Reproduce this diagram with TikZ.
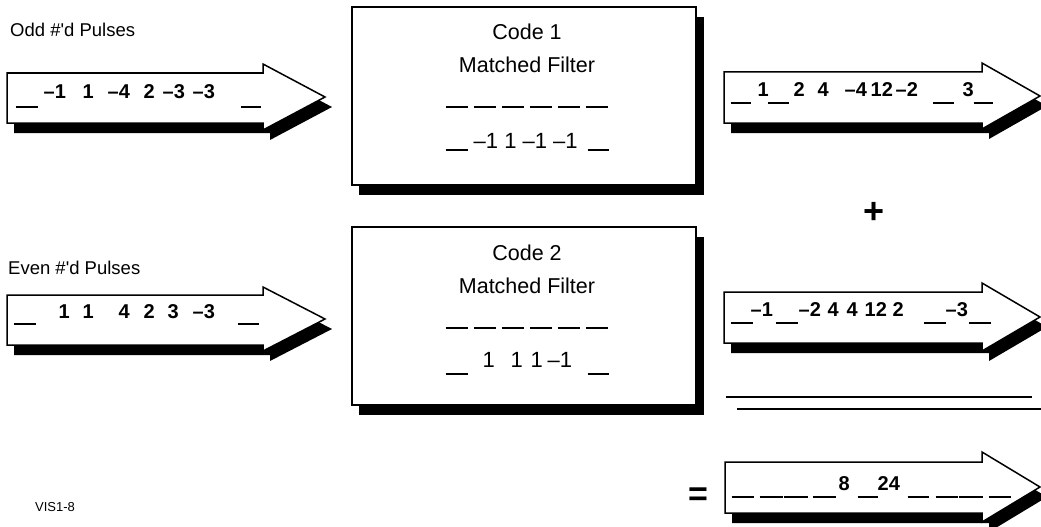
\documentclass[tikz,border=0pt]{standalone}
\usepackage{fontspec}
\setmainfont{Liberation Sans}
\usetikzlibrary{shadows}
% tokens placed at a horizontal offset (pt) from the start of a row
\newcommand{\mn}{\textendash}
\newcommand{\tk}[2]{\makebox[0pt][l]{\hspace*{#1pt}#2}}
% blank slot: offset, width, drop below the baseline
\newcommand{\dk}[3]{\makebox[0pt][l]{\hspace*{#1pt}\rule[-#3pt]{#2pt}{1.8pt}}}
\tikzset{
  outline/.style={draw=black, line width=1.5pt, fill=white, line join=miter,
    drop shadow={shadow xshift=7pt, shadow yshift=-10pt, opacity=1, fill=black}},
  filterbox/.style={outline, rectangle, inner sep=0pt,
    drop shadow={shadow xshift=8pt, shadow yshift=-10pt, opacity=1, fill=black}},
  seq/.style={anchor=base west, inner sep=0pt, font=\fontsize{20}{22}\selectfont\bfseries},
  code/.style={anchor=base west, inner sep=0pt, font=\fontsize{22}{24}\selectfont},
  title/.style={anchor=base, inner sep=0pt, font=\fontsize{21.5}{24}\selectfont},
  label/.style={anchor=base west, inner sep=0pt, font=\fontsize{18.5}{20}\selectfont},
}
\begin{document}
\begin{tikzpicture}[x=1pt, y=-1pt]
\useasboundingbox (0,0) rectangle (1041,527);

% input pulse trains
\draw[outline] (7,73) -- (263,73) -- (263,64) -- (325,97) -- (263,130) -- (263,123) -- (7,123) -- cycle;
\draw[outline] (7,295) -- (263,295) -- (263,287) -- (325,319) -- (263,351) -- (263,345) -- (7,345) -- cycle;

% matched filters
\node[filterbox, minimum width=344pt, minimum height=178pt] (filt1) at (524,96) {};
\node[filterbox, minimum width=344pt, minimum height=178pt] (filt2) at (524,316) {};

% filter outputs and their sum
\draw[outline] (724,72) -- (982,72) -- (982,63) -- (1040,96) -- (982,129) -- (982,123) -- (724,123) -- cycle;
\draw[outline] (724,292) -- (982,292) -- (982,283) -- (1040,317) -- (982,351) -- (982,343) -- (724,343) -- cycle;
\draw[outline] (725,462) -- (982,462) -- (982,452) -- (1040,487) -- (982,522) -- (982,513) -- (725,513) -- cycle;

% sum bar
\draw[line width=1.5pt] (726,397) -- (1032,397);
\draw[line width=1.5pt] (737,409) -- (1041,409);

% labels
\node[label] (oddlbl) at (10,37) {Odd \#\textquotesingle d Pulses};
\node[label] (evenlbl) at (8,274) {Even \#\textquotesingle d Pulses};
\node[anchor=base west, inner sep=0pt, font=\fontsize{13}{15}\selectfont] (tag) at (35,511) {VIS1-8};
\node[inner sep=0pt, font=\fontsize{36}{36}\selectfont\bfseries] (plus) at (874,213) {+};
\node[inner sep=0pt, font=\fontsize{34}{34}\selectfont\bfseries] (eq) at (698,497) {=};

% input sequences
\node[seq] (oddseq) at (7,99) {\dk{8}{22}{9}\tk{36}{\mn1}\tk{75}{1}\tk{100}{\mn4}\tk{136}{2}\tk{155}{\mn3}\tk{185}{\mn3}\dk{233}{20}{9}};
\node[seq] (evenseq) at (7,318) {\dk{6}{22}{7}\tk{51}{1}\tk{75}{1}\tk{111}{4}\tk{136}{2}\tk{160}{3}\tk{185}{\mn3}\dk{230}{21}{7}};

% filter texts
\node[title] (t1a) at (527,40) {Code 1};
\node[title] (t1b) at (527,73) {Matched Filter};
\node[code] (t1c) at (445,108) {\dk{0}{22}{0}\dk{28}{22}{0}\dk{56}{22}{0}\dk{84}{22}{0}\dk{112}{22}{0}\dk{140}{22}{0}};
\node[code] (t1d) at (445,148) {\dk{0}{22}{3}\tk{28}{\mn1 1 \mn1 \mn1}\dk{142}{21}{3}};

\node[title] (t2a) at (527,260) {Code 2};
\node[title] (t2b) at (527,293) {Matched Filter};
\node[code] (t2c) at (445,329) {\dk{0}{22}{0}\dk{28}{22}{0}\dk{56}{22}{0}\dk{84}{22}{0}\dk{112}{22}{0}\dk{140}{22}{0}};
\node[code] (t2d) at (445,367) {\dk{0}{22}{8}\tk{37}{1}\tk{65}{1}\tk{85}{1}\tk{102}{\mn1}\dk{142}{21}{8}};

% output sequences
\node[seq] (out1) at (724,96) {\dk{6}{20}{8}\tk{33}{1}\dk{43}{21}{8}\tk{69}{2}\tk{93}{4}\tk{120}{\mn4}\tk{146}{12}\tk{171}{\mn2}\dk{208}{21}{8}\tk{238}{3}\dk{249}{19}{8}};
\node[seq] (out2) at (724,316) {\dk{6}{22}{8}\tk{26}{\mn1}\dk{51}{22}{8}\tk{74}{\mn2}\tk{103}{4}\tk{122}{4}\tk{140}{12}\tk{168}{2}\dk{199}{22}{8}\tk{221}{\mn3}\dk{244}{22}{8}};
\node[seq] (sum) at (725,490) {\dk{6}{22}{8}\dk{34}{23}{8}\dk{58}{24}{8}\dk{87}{23}{8}\tk{113}{8}\dk{132}{20}{8}\tk{152}{24}\dk{182}{21}{8}\dk{210}{22}{8}\dk{233}{24}{8}\dk{263}{22}{8}};
\end{tikzpicture}
\end{document}
